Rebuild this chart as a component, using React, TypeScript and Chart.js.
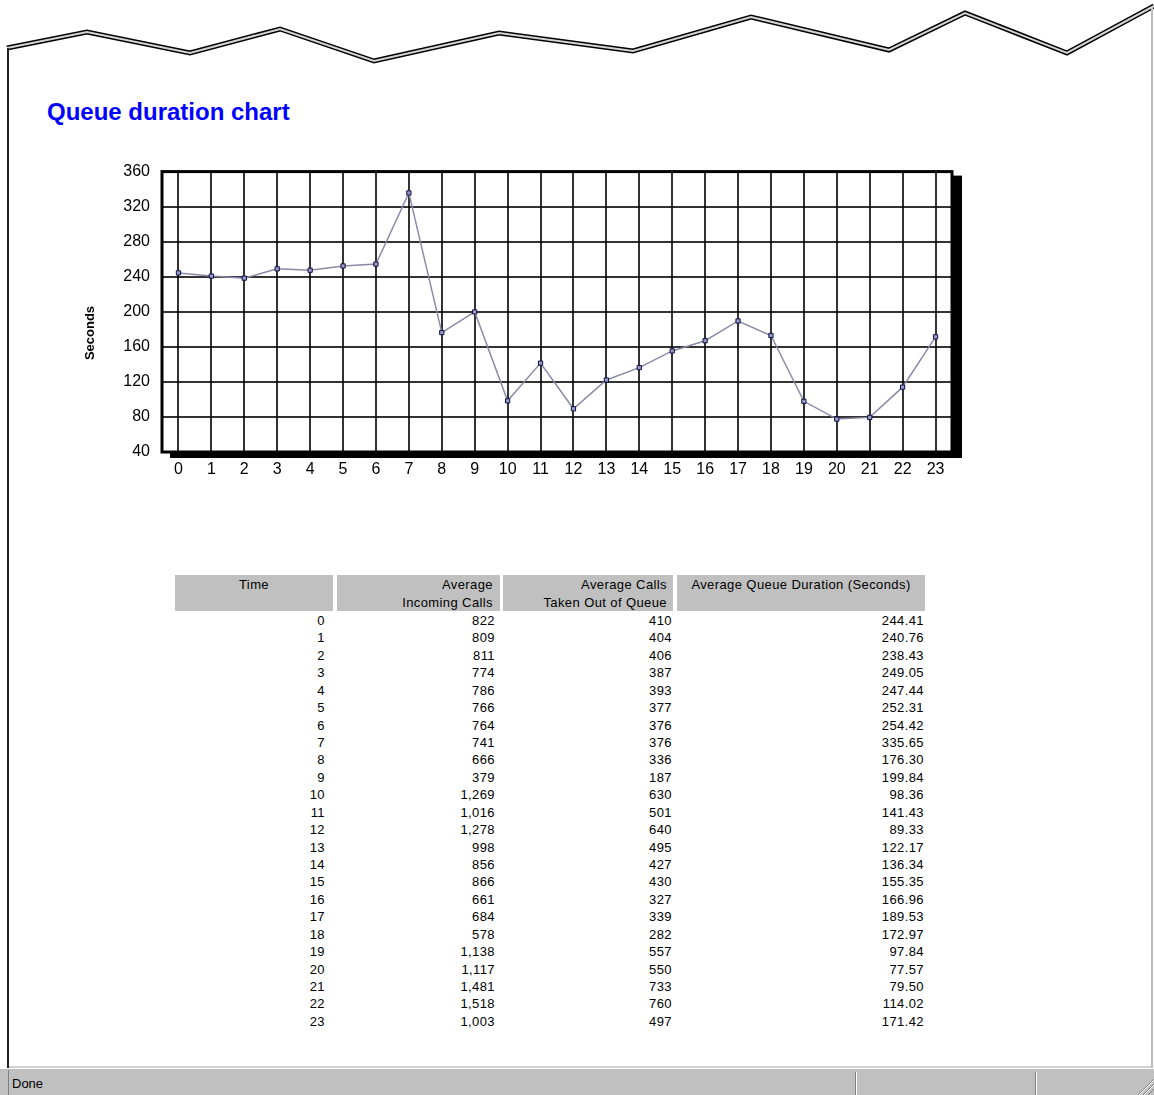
import React, { useEffect, useRef } from 'react';
import { Chart, registerables } from 'chart.js';

Chart.register(...registerables);

// ---------- data ----------
const hourLabels = ['0', '1', '2', '3', '4', '5', '6', '7', '8', '9', '10', '11', '12', '13', '14', '15', '16', '17', '18', '19', '20', '21', '22', '23'];
const incomingCalls = [822, 809, 811, 774, 786, 766, 764, 741, 666, 379, 1269, 1016, 1278, 998, 856, 866, 661, 684, 578, 1138, 1117, 1481, 1518, 1003];
const callsTakenOut = [410, 404, 406, 387, 393, 377, 376, 376, 336, 187, 630, 501, 640, 495, 427, 430, 327, 339, 282, 557, 550, 733, 760, 497];
const queueDuration = [244.41, 240.76, 238.43, 249.05, 247.44, 252.31, 254.42, 335.65, 176.3, 199.84, 98.36, 141.43, 89.33, 122.17, 136.34, 155.35, 166.96, 189.53, 172.97, 97.84, 77.57, 79.5, 114.02, 171.42];
const yTickMin = 40;
const yTickMax = 360;
const yTickStep = 40;

const chartTitle = 'Queue duration chart';
const yAxisTitle = 'Seconds';
const tableHeaders = [['Time'], ['Average', 'Incoming Calls'], ['Average Calls', 'Taken Out of Queue'], ['Average Queue Duration (Seconds)']];
const statusText = 'Done';

const FONT = '"Liberation Sans", Arial, sans-serif';

const framePlugin = {
  id: 'frameShadow',
  beforeDatasetsDraw(chart: any) {
    const { ctx, chartArea: a } = chart;
    ctx.save();
    ctx.fillStyle = '#000';
    ctx.fillRect(a.right, a.top + 4, 10, a.bottom - a.top + 2);
    ctx.fillRect(a.left + 8, a.bottom, a.right - a.left + 2, 6);
    ctx.strokeStyle = '#000';
    ctx.lineWidth = 3;
    ctx.strokeRect(a.left, a.top, a.right - a.left, a.bottom - a.top);
    ctx.restore();
  },
  afterDraw(chart: any) {
    const { ctx, chartArea: a } = chart;
    ctx.save();
    ctx.translate(a.left - 72, 183);
    ctx.rotate(-Math.PI / 2);
    ctx.font = `bold 13px ${FONT}`;
    ctx.fillStyle = '#000';
    ctx.textAlign = 'center';
    ctx.textBaseline = 'middle';
    ctx.fillText(yAxisTitle, 0, 0);
    ctx.restore();
  },
};

function QueueChart() {
  const ref = useRef<HTMLCanvasElement | null>(null);
  useEffect(() => {
    if (!ref.current) return;
    const chart = new Chart(ref.current, {
      type: 'line',
      data: {
        labels: hourLabels,
        datasets: [
          {
            data: queueDuration,
            borderColor: '#8a8aa8',
            borderWidth: 1.5,
            pointStyle: 'rect',
            pointRadius: 3,
            pointBorderWidth: 1,
            pointBorderColor: '#10104a',
            pointBackgroundColor: '#9a9ac4',
            tension: 0,
          },
        ],
      },
      options: {
        animation: false,
        responsive: true,
        maintainAspectRatio: false,
        layout: { padding: { left: 0, top: 20, right: 28, bottom: 0 } },
        plugins: { legend: { display: false }, tooltip: { enabled: false }, title: { display: false } },
        scales: {
          x: {
            type: 'category',
            offset: true,
            grid: { color: 'rgba(0,0,0,0.8)', lineWidth: 2, drawTicks: false, offset: false },
            border: { display: false },
            ticks: { color: '#000', font: { family: FONT, size: 16 }, padding: 8, autoSkip: false, maxRotation: 0 },
            afterFit(scale: any) {
              scale.height = 38;
            },
          },
          y: {
            min: yTickMin,
            max: yTickMax,
            grid: { color: 'rgba(0,0,0,0.8)', lineWidth: 2, drawTicks: false },
            border: { display: false },
            ticks: { stepSize: yTickStep, color: '#000', font: { family: FONT, size: 16 }, padding: 12 },
            afterFit(scale: any) {
              scale.width = 82;
            },
          },
        },
      },
      plugins: [framePlugin],
    } as any);
    return () => chart.destroy();
  }, []);
  return (
    <div style={{ position: 'absolute', left: 80, top: 150, width: 900, height: 340 }}>
      <canvas ref={ref} style={{ width: '100%', height: '100%' }} />
    </div>
  );
}

const zigzag = '7,48 87,32 190,53 280,29 374,61 499,33 633,51 751,17 889,50 965,13 1067,53 1154,6';

const columns = [
  { left: 175, width: 158, padR: 8, headAlign: 'center', headPadR: 0 },
  { left: 337, width: 163, padR: 5, headAlign: 'right', headPadR: 7 },
  { left: 503, width: 170, padR: 1, headAlign: 'right', headPadR: 6 },
  { left: 677, width: 248, padR: 1, headAlign: 'center', headPadR: 0 },
];

const ROW_TOP = 612;
const ROW_H = 17.43;

export default function App() {
  const rowValues = hourLabels.map((h, i) => [
    h,
    incomingCalls[i].toLocaleString('en-US'),
    callsTakenOut[i].toLocaleString('en-US'),
    queueDuration[i].toFixed(2),
  ]);
  const textStyle: React.CSSProperties = { fontFamily: FONT, fontSize: 13, letterSpacing: 0.4, color: '#000' };
  return (
    <div style={{ position: 'absolute', left: 0, top: 0, width: 1154, height: 1095, background: '#fff', overflow: 'hidden' }}>
      <svg width={1154} height={80} style={{ position: 'absolute', left: 0, top: 0 }}>
        <polyline points={zigzag} fill="none" stroke="#000" strokeWidth={5} strokeLinejoin="miter" />
        <polyline points={zigzag} fill="none" stroke="#d4d4d4" strokeWidth={2} strokeLinejoin="miter" />
      </svg>
      {/* window borders */}
      <div style={{ position: 'absolute', left: 7, top: 48, width: 2, height: 1020, background: '#222' }} />
      <div style={{ position: 'absolute', left: 1151, top: 8, width: 2, height: 1060, background: '#bdbdbd' }} />
      <div style={{ position: 'absolute', left: 9, top: 1066, width: 1142, height: 2, background: '#d0d0d0' }} />

      <div style={{ position: 'absolute', left: 47, top: 97, fontFamily: FONT, fontWeight: 'bold', fontSize: 24, color: '#0000ff', whiteSpace: 'nowrap', lineHeight: '30px' }}>
        {chartTitle}
      </div>

      <QueueChart />

      {/* table header */}
      {columns.map((c, ci) => (
        <div
          key={'h' + ci}
          style={{
            ...textStyle,
            position: 'absolute',
            left: c.left,
            top: 575,
            width: c.width,
            height: 36,
            background: '#c0c0c0',
            boxSizing: 'border-box',
            paddingTop: 1,
            paddingRight: c.headPadR,
            lineHeight: '18px',
            textAlign: c.headAlign as any,
            whiteSpace: 'nowrap',
          }}
        >
          {tableHeaders[ci].map((t, ti) => (
            <div key={ti}>{t}</div>
          ))}
        </div>
      ))}
      {/* table rows */}
      {rowValues.map((row, ri) =>
        row.map((v, ci) => (
          <div
            key={ri + '-' + ci}
            style={{
              ...textStyle,
              position: 'absolute',
              left: columns[ci].left,
              top: ROW_TOP + ri * ROW_H,
              width: columns[ci].width,
              height: ROW_H,
              lineHeight: ROW_H + 'px',
              boxSizing: 'border-box',
              paddingRight: columns[ci].padR,
              textAlign: 'right',
              whiteSpace: 'nowrap',
            }}
          >
            {v}
          </div>
        ))
      )}

      {/* status bar */}
      <div style={{ position: 'absolute', left: 0, top: 1069, width: 1154, height: 26, background: '#c0c0c0' }} />
      <div style={{ position: 'absolute', left: 8, top: 1070, width: 1, height: 25, background: '#808080' }} />
      <div style={{ position: 'absolute', left: 12, top: 1073, fontFamily: FONT, fontSize: 13, color: '#000', lineHeight: '22px' }}>{statusText}</div>
      <div style={{ position: 'absolute', left: 855, top: 1072, width: 1, height: 23, background: '#808080' }} />
      <div style={{ position: 'absolute', left: 856, top: 1072, width: 1, height: 23, background: '#fff' }} />
      <div style={{ position: 'absolute', left: 1035, top: 1072, width: 1, height: 23, background: '#808080' }} />
      <div style={{ position: 'absolute', left: 1036, top: 1072, width: 1, height: 23, background: '#fff' }} />
      <svg width={20} height={20} style={{ position: 'absolute', left: 1134, top: 1075 }}>
        <line x1={20} y1={4} x2={4} y2={20} stroke="#808080" strokeWidth={1} />
        <line x1={20} y1={9} x2={9} y2={20} stroke="#808080" strokeWidth={1} />
        <line x1={20} y1={14} x2={14} y2={20} stroke="#808080" strokeWidth={1} />
        <line x1={20} y1={5} x2={5} y2={20} stroke="#fff" strokeWidth={1} />
        <line x1={20} y1={10} x2={10} y2={20} stroke="#fff" strokeWidth={1} />
      </svg>
    </div>
  );
}
